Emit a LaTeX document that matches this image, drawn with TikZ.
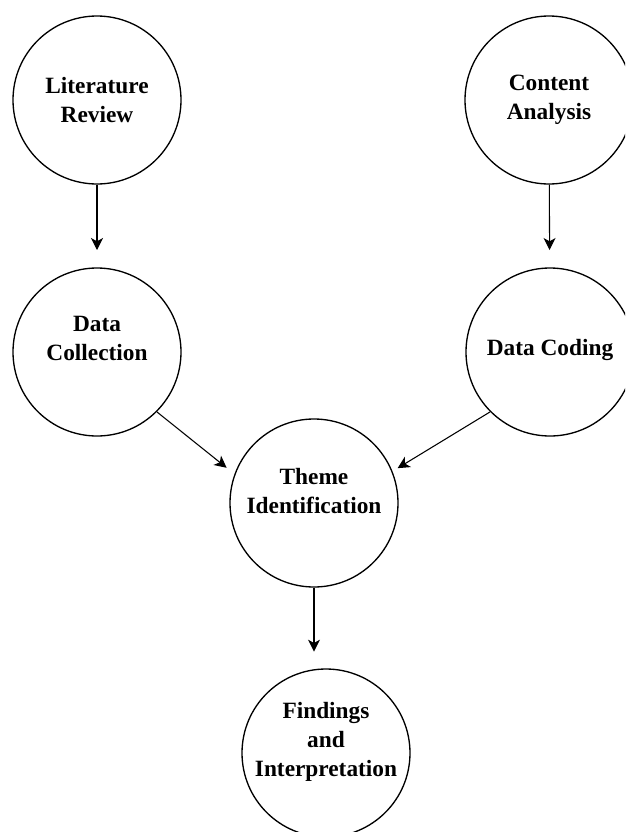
\documentclass[tikz,border=0pt]{standalone}
\usepackage{fontspec}
\setmainfont{Liberation Serif}
\usetikzlibrary{arrows.meta}

\tikzset{
  stage/.style={draw, circle, line width=1pt, minimum size=126pt, inner sep=0pt},
  stagetext/.style={align=center, font=\bfseries\fontsize{17.5}{21.75}\selectfont},
  flow/.style={line width=0.8pt, -{Stealth[length=9pt,width=9pt,inset=2.5pt]}}
}

\begin{document}
\begin{tikzpicture}[x=0.75pt,y=-0.75pt]
        \useasboundingbox (0,0) rectangle (625,832);
        \clip (0,0) rectangle (625,832);

        % kruhy
        \node[stage] (lit) at (97,100) {};
        \node[stage] (cont) at (549,100) {};
        \node[stage] (coll) at (97,352) {};
        \node[stage] (cod) at (550,352) {};
        \node[stage] (theme) at (314,503) {};
        \node[stage] (find) at (326,753) {};

        % popisky
        \node[stagetext] (litT) at (lit) {Literature\\Review};
        \node[stagetext] (contT) at (cont) {Content\\Analysis};
        \node[stagetext] (collT) at ([yshift=10pt]coll) {Data\\Collection};
        \node[stagetext] (codT) at ([yshift=1.5pt]cod) {Data Coding};
        \node[stagetext] (themeT) at ([yshift=9pt]theme) {Theme\\Identification};
        \node[stagetext] (findT) at ([yshift=8pt]find) {Findings\\and\\Interpretation};

        % sipky
        \draw[flow, shorten >=13pt] (lit) -- (coll);
        \draw[flow, shorten >=13pt] (cont) -- (cod);
        \draw[flow, shorten >=7.5pt] (coll.south east) -- (theme.160);
        \draw[flow, shorten >=4.5pt] (cod.south west) -- (theme.22);
        \draw[flow, shorten >=12.5pt] (theme.south) -- (theme.south |- find.north);
    \end{tikzpicture}
\end{document}
